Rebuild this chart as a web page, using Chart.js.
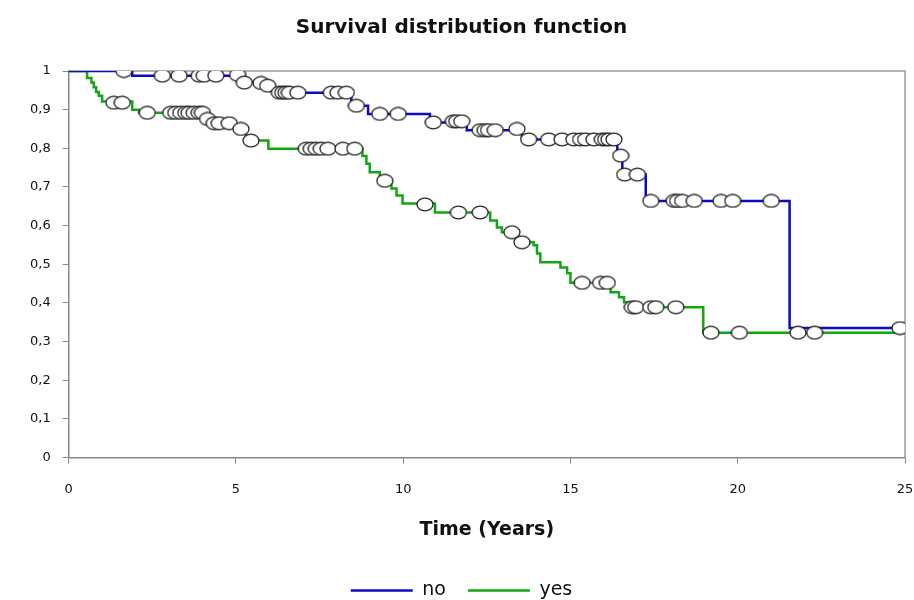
<!DOCTYPE html>
<html>
<head>
<meta charset="utf-8">
<script src="https://cdn.jsdelivr.net/npm/chart.js@4/dist/chart.umd.min.js"></script>
<style>
  html, body { margin: 0; padding: 0; background: #fff; }
  #wrap { width: 914px; height: 600px; position: relative; }
</style>
</head>
<body>
<div id="wrap"><canvas id="chart"></canvas></div>
<script>
// Kaplan-Meier step curves (time in years, survival after the drop)
const noTimes = [0, 1.9, 5.15, 5.7, 5.9, 6.05, 6.25, 8.45, 8.95, 10.8, 11.9, 13.55, 16.4, 16.55, 17.25, 21.55, 25];
const noSurv  = [1, 0.988, 0.97, 0.962, 0.955, 0.95, 0.944, 0.91, 0.889, 0.867, 0.847, 0.823, 0.781, 0.732, 0.664, 0.335, 0.335];

const yesTimes = [0, 0.55, 0.68, 0.75, 0.82, 0.9, 1.0, 1.9, 2.1, 4.2, 4.3, 4.95, 5.3, 5.97,
  8.78, 8.9, 9.0, 9.3, 9.65, 9.8, 9.98, 10.95, 12.6, 12.8, 12.95, 13.45, 13.9, 14.0, 14.1,
  14.7, 14.9, 15.0, 16.2, 16.45, 16.6, 16.72, 18.97, 25];
const yesSurv  = [1, 0.982, 0.97, 0.958, 0.946, 0.936, 0.921, 0.9, 0.892, 0.879, 0.865, 0.85, 0.82, 0.799,
  0.78, 0.76, 0.738, 0.716, 0.696, 0.678, 0.657, 0.634, 0.613, 0.595, 0.583, 0.557, 0.549, 0.528, 0.505,
  0.492, 0.477, 0.452, 0.428, 0.415, 0.402, 0.389, 0.323, 0.323];

// censored observations
const noCensT = [1.65, 2.8, 3.3, 3.9, 4.05, 4.4, 5.05, 5.25, 5.75, 5.95, 6.3, 6.4, 6.5, 6.6, 6.85,
  7.85, 8.05, 8.3, 8.6, 9.3, 9.85, 10.9, 11.5, 11.6, 11.75, 12.3, 12.45, 12.55, 12.75, 13.4,
  13.75, 14.35, 14.75, 15.1, 15.3, 15.45, 15.7, 15.95, 16.05, 16.15, 16.3, 16.5, 16.62, 17.0,
  17.4, 18.1, 18.2, 18.35, 18.7, 19.5, 19.85, 21.0, 24.85];
const noCensS = [1, 0.988, 0.988, 0.988, 0.988, 0.988, 0.99, 0.97, 0.969, 0.962, 0.944, 0.944, 0.944, 0.944, 0.944,
  0.944, 0.944, 0.944, 0.91, 0.889, 0.889, 0.867, 0.87, 0.87, 0.87, 0.847, 0.847, 0.847, 0.847, 0.85,
  0.823, 0.823, 0.823, 0.823, 0.823, 0.823, 0.823, 0.823, 0.823, 0.823, 0.823, 0.781, 0.732, 0.732,
  0.664, 0.664, 0.664, 0.664, 0.664, 0.664, 0.664, 0.664, 0.335];

const yesCensT = [1.35, 1.6, 2.35, 3.05, 3.2, 3.35, 3.5, 3.6, 3.75, 3.9, 4.0, 4.15, 4.35, 4.5, 4.8,
  5.15, 5.45, 7.1, 7.25, 7.4, 7.55, 7.75, 8.2, 8.55, 9.45, 10.65, 11.65, 12.3, 13.25, 13.55,
  15.35, 15.9, 16.1, 16.85, 16.95, 17.4, 17.55, 18.15, 19.2, 20.05, 21.8, 22.3];
const yesCensS = [0.918, 0.918, 0.892, 0.892, 0.892, 0.892, 0.892, 0.892, 0.892, 0.892, 0.892, 0.876, 0.865, 0.865, 0.865,
  0.85, 0.82, 0.799, 0.799, 0.799, 0.799, 0.799, 0.799, 0.799, 0.716, 0.655, 0.634, 0.634, 0.583, 0.557,
  0.452, 0.452, 0.452, 0.389, 0.389, 0.389, 0.389, 0.389, 0.323, 0.323, 0.323, 0.323];

const xTicks = [0, 5, 10, 15, 20, 25];

function pts(xs, ys) {
  return xs.map((x, i) => ({ x: x, y: ys[i] }));
}

// open ellipse marker like the original
const marker = document.createElement('canvas');
marker.width = 18;
marker.height = 15;
(function () {
  const c = marker.getContext('2d');
  c.beginPath();
  c.ellipse(9, 7.5, 8, 6.3, 0, 0, Math.PI * 2);
  c.fillStyle = '#fff';
  c.fill();
  c.lineWidth = 1.3;
  c.strokeStyle = '#222';
  c.stroke();
})();

const frame = {
  id: 'frame',
  beforeDatasetsDraw(chart) {
    const a = chart.chartArea;
    const ctx = chart.ctx;
    ctx.save();
    ctx.strokeStyle = '#999';
    ctx.lineWidth = 1.5;
    ctx.beginPath();
    ctx.moveTo(a.left, a.top);
    ctx.lineTo(a.right, a.top);
    ctx.lineTo(a.right, a.bottom);
    ctx.stroke();
    ctx.restore();
  }
};

const censorStyle = {
  type: 'line',
  showLine: false,
  pointStyle: marker,
  pointRadius: 8,
  pointHoverRadius: 8
};

new Chart(document.getElementById('chart'), {
  type: 'line',
  data: {
    datasets: [
      Object.assign({ label: 'no censored', data: pts(noCensT, noCensS) }, censorStyle),
      Object.assign({ label: 'yes censored', data: pts(yesCensT, yesCensS) }, censorStyle),
      {
        label: 'no',
        data: pts(noTimes, noSurv),
        stepped: 'before',
        borderColor: '#0a0ac8',
        backgroundColor: '#0a0ac8',
        borderWidth: 2.5,
        pointRadius: 0,
        pointStyle: 'line'
      },
      {
        label: 'yes',
        data: pts(yesTimes, yesSurv),
        stepped: 'before',
        borderColor: '#14a514',
        backgroundColor: '#14a514',
        borderWidth: 2.5,
        pointRadius: 0,
        pointStyle: 'line'
      }
    ]
  },
  options: {
    responsive: true,
    maintainAspectRatio: false,
    animation: false,
    layout: { padding: { left: 18, right: 9, top: 10, bottom: -10 } },
    scales: {
      x: {
        type: 'linear',
        min: 0,
        max: 25,
        afterBuildTicks(axis) { axis.ticks = xTicks.map(v => ({ value: v })); },
        afterFit(axis) { axis.paddingRight = 0; },
        ticks: { color: '#111', padding: 18, font: { family: 'DejaVu Sans', size: 13 } },
        grid: { drawOnChartArea: false, color: '#888', tickLength: 6 },
        border: { color: '#888', width: 1.5 },
        title: {
          display: true,
          text: 'Time (Years)',
          color: '#111',
          font: { family: 'DejaVu Sans', size: 19, weight: 'bold' },
          padding: { top: 3, bottom: 18 }
        }
      },
      y: {
        min: 0,
        max: 1,
        ticks: {
          stepSize: 0.1,
          color: '#111',
          padding: 12,
          font: { family: 'DejaVu Sans', size: 13 },
          callback: v => {
            const r = Math.round(v * 10) / 10;
            return String(r).replace('.', ',');
          }
        },
        grid: { drawOnChartArea: false, color: '#888', tickLength: 6 },
        border: { color: '#888', width: 1.5 }
      }
    },
    plugins: {
      title: {
        display: true,
        text: 'Survival distribution function',
        color: '#111',
        font: { family: 'DejaVu Sans', size: 20, weight: 'bold' },
        padding: { top: 6, bottom: 31 }
      },
      legend: {
        position: 'bottom',
        labels: {
          filter: item => item.text === 'no' || item.text === 'yes',
          usePointStyle: true,
          pointStyleWidth: 62,
          color: '#111',
          font: { family: 'DejaVu Sans', size: 19 },
          padding: 22
        }
      },
      tooltip: { enabled: false }
    }
  },
  plugins: [frame]
});
</script>
</body>
</html>
